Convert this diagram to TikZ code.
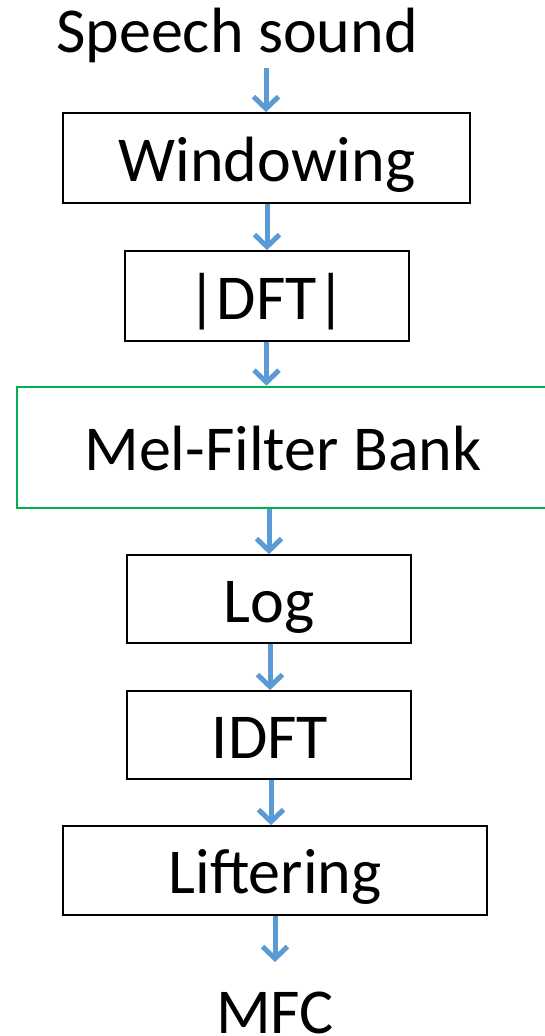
\documentclass[tikz,border=0pt]{standalone}
\usepackage{fontspec}
\setmainfont{Carlito}
\usetikzlibrary{arrows.meta}
\definecolor{arrowblue}{RGB}{91,155,213}
\definecolor{melgreen}{RGB}{0,176,80}
\begin{document}
\begin{tikzpicture}[x=1pt,y=-1pt,
  lbl/.style={font=\fontsize{64}{72}\selectfont, inner sep=0pt},
  stagebox/.style={draw=black, line width=1.8pt, inner sep=0pt},
  flow/.style={draw=arrowblue, line width=5pt, -{Straight Barb[length=12pt,width=25pt,line width=5pt]}}
]
\useasboundingbox (0,0) rectangle (545,1036);
\clip (0,0) rectangle (545,1036);
% text labels
\node[lbl, anchor=base] (src) at (237,52) {Speech sound};
\node[lbl, anchor=base] (out) at (275,1033) {MFC};
% boxes
\node[stagebox, minimum width=407pt, minimum height=90pt] (win) at (266.5,158) {};
\node[lbl, anchor=base] (wint) at (267,181) {Windowing};
\node[stagebox, minimum width=284pt, minimum height=90pt] (dft) at (267,296) {};
\node[lbl, anchor=base] (dftt) at (267,319) {|DFT|};
\node[draw=melgreen, line width=2.6pt, inner sep=0pt, minimum width=560pt, minimum height=121pt] (mel) at (297,447.5) {};
\node[lbl, anchor=base] (melt) at (283,470) {Mel-Filter Bank};
\node[stagebox, minimum width=284pt, minimum height=88pt] (log) at (269,599) {};
\node[lbl, anchor=base] (logt) at (269,622) {Log};
\node[stagebox, minimum width=284pt, minimum height=88pt] (idft) at (269,735) {};
\node[lbl, anchor=base] (idftt) at (270,758) {IDFT};
\node[stagebox, minimum width=424pt, minimum height=89pt] (lift) at (275,870.5) {};
\node[lbl, anchor=base] (liftt) at (275,893) {Liftering};
% connector columns
\coordinate (x0) at (266,0);
\coordinate (x1) at (267,0);
\coordinate (x2) at (266.5,0);
\coordinate (x3) at (269,0);
\coordinate (x4) at (270,0);
\coordinate (x5) at (271,0);
\coordinate (x6) at (275,0);
\coordinate (s0) at (266,68);
\coordinate (e6) at (275,962);
% connectors
\draw[flow] (s0) -- (x0 |- win.north);
\draw[flow] (x1 |- win.south) -- (x1 |- dft.north);
\draw[flow] (x2 |- dft.south) -- (x2 |- mel.north);
\draw[flow] (x3 |- mel.south) -- (x3 |- log.north);
\draw[flow] (x4 |- log.south) -- (x4 |- idft.north);
\draw[flow] (x5 |- idft.south) -- (x5 |- lift.north);
\draw[flow] (x6 |- lift.south) -- (e6);
\end{tikzpicture}
\end{document}
